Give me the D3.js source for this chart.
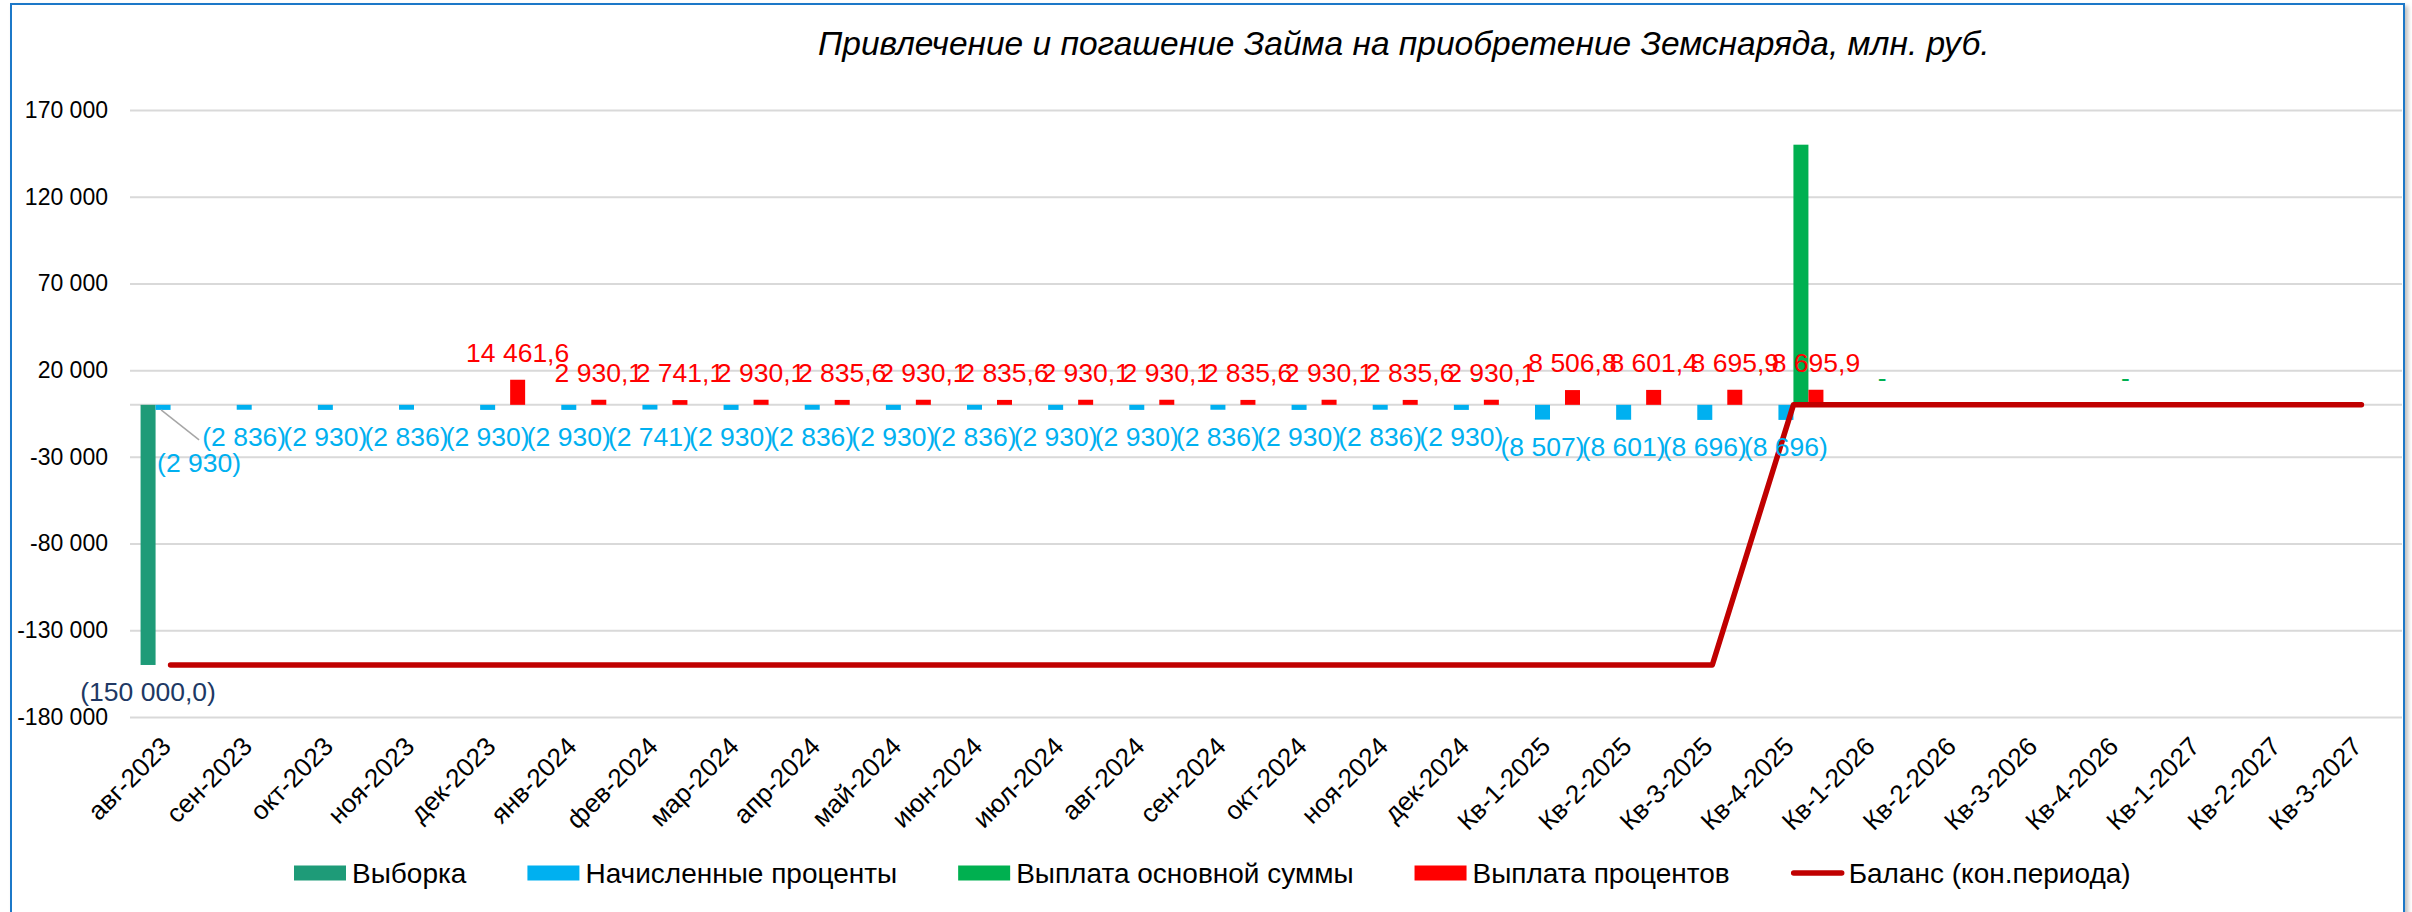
<!DOCTYPE html>
<html>
<head>
<meta charset="utf-8">
<script src="https://cdn.jsdelivr.net/npm/d3@7"></script>
<style>
  html, body { margin: 0; padding: 0; background: #fff; }
  svg { display: block; font-family: "Liberation Sans", Arial, sans-serif; }
</style>
</head>
<body>
<div id="chart"></div>
<script>
// Categories (months, then quarters)
const categories = [
  "авг-2023", "сен-2023", "окт-2023", "ноя-2023", "дек-2023", "янв-2024", "фев-2024",
  "мар-2024", "апр-2024", "май-2024", "июн-2024", "июл-2024", "авг-2024", "сен-2024",
  "окт-2024", "ноя-2024", "дек-2024", "Кв-1-2025", "Кв-2-2025", "Кв-3-2025", "Кв-4-2025",
  "Кв-1-2026", "Кв-2-2026", "Кв-3-2026", "Кв-4-2026", "Кв-1-2027", "Кв-2-2027", "Кв-3-2027"
];

// Выборка
const drawdown = [-150000, null, null, null, null, null, null, null, null, null, null, null, null, null,
  null, null, null, null, null, null, null, null, null, null, null, null, null, null];

// Начисленные проценты
const accrued = [-2930.1, -2835.6, -2930.1, -2835.6, -2930.1, -2930.1, -2741.1, -2930.1, -2835.6,
  -2930.1, -2835.6, -2930.1, -2930.1, -2835.6, -2930.1, -2835.6, -2930.1,
  -8506.8, -8601.4, -8695.9, -8695.9, null, null, null, null, null, null, null];

// Выплата основной суммы
const principal = [null, null, null, null, null, null, null, null, null, null, null, null, null, null,
  null, null, 0, null, null, null, 150000, 0, null, null, 0, null, null, null];

// Выплата процентов
const interest = [null, null, null, null, 14461.6, 2930.1, 2741.1, 2930.1, 2835.6, 2930.1, 2835.6,
  2930.1, 2930.1, 2835.6, 2930.1, 2835.6, 2930.1, 8506.8, 8601.4, 8695.9, 8695.9,
  null, null, null, null, null, null, null];

// Баланс (кон.периода)
const balance = [-150000, -150000, -150000, -150000, -150000, -150000, -150000, -150000, -150000,
  -150000, -150000, -150000, -150000, -150000, -150000, -150000, -150000, -150000, -150000, -150000,
  0, 0, 0, 0, 0, 0, 0, 0];

const yTicks = [170000, 120000, 70000, 20000, -30000, -80000, -130000, -180000];

const W = 2412, H = 912;
const plot = { left: 130, right: 2402, top: 110, bottom: 717 };

const ru = d3.formatLocale({ decimal: ",", thousands: " ", grouping: [3], currency: ["", ""], minus: "-" });
const fmtInt = ru.format(",.0f");
const fmt1 = ru.format(",.1f");
const paren0 = v => v < 0 ? `(${fmtInt(-v)})` : fmtInt(v);
const paren1 = v => v === 0 ? "-" : (v < 0 ? `(${fmt1(-v)})` : fmt1(v));

const series = [
  { key: "drawdown", name: "Выборка", values: drawdown, color: "#1E9B78", labelColor: "#203864", fmt: paren1, showLabel: v => true },
  { key: "accrued", name: "Начисленные проценты", values: accrued, color: "#00B0F0", labelColor: "#00B0F0", fmt: paren0, showLabel: v => true },
  { key: "principal", name: "Выплата основной суммы", values: principal, color: "#00B050", labelColor: "#00B050", fmt: paren1, showLabel: v => v === 0 },
  { key: "interest", name: "Выплата процентов", values: interest, color: "#FF0000", labelColor: "#FF0000", fmt: paren1, showLabel: v => true }
];

const svg = d3.select("#chart").append("svg")
  .attr("width", W)
  .attr("height", H);

// Chart frame with a soft shadow
const defs = svg.append("defs");
const f = defs.append("filter").attr("id", "shadow").attr("x", "-1%").attr("y", "-1%").attr("width", "103%").attr("height", "103%");
f.append("feDropShadow").attr("dx", 3).attr("dy", 3).attr("stdDeviation", 2).attr("flood-color", "#000").attr("flood-opacity", 0.25);

svg.append("rect")
  .attr("x", 11).attr("y", 4)
  .attr("width", 2393).attr("height", 920)
  .attr("fill", "#fff")
  .attr("stroke", "#1F78C8")
  .attr("stroke-width", 2)
  .attr("filter", "url(#shadow)");

// Scales
const x = d3.scaleBand()
  .domain(categories)
  .range([plot.left, plot.right])
  .padding(0);

const xs = d3.scaleBand()
  .domain(series.map(s => s.key))
  .range([0, x.bandwidth()])
  .paddingInner(0)
  .paddingOuter(0.705);

const y = d3.scaleLinear()
  .domain([-180000, 170000])
  .range([plot.bottom, plot.top]);

// Gridlines
svg.append("g")
  .attr("transform", `translate(${plot.left},0)`)
  .call(d3.axisLeft(y).tickValues(yTicks).tickSize(-(plot.right - plot.left)).tickFormat(""))
  .call(g => g.select(".domain").remove())
  .selectAll("line")
  .attr("stroke", "#D9D9D9")
  .attr("stroke-width", 2);

// Y axis labels
svg.append("g")
  .attr("transform", `translate(${plot.left},0)`)
  .call(d3.axisLeft(y).tickValues(yTicks).tickSize(0).tickPadding(22).tickFormat(ru.format(",")))
  .call(g => g.select(".domain").remove())
  .selectAll("text")
  .attr("font-family", "Liberation Sans, Arial, sans-serif")
  .style("font-size", "23px")
  .attr("fill", "#000");

// Category axis line at zero
svg.append("line")
  .attr("x1", plot.left).attr("x2", plot.right)
  .attr("y1", y(0)).attr("y2", y(0))
  .attr("stroke", "#D9D9D9")
  .attr("stroke-width", 2);

// X axis labels (rotated)
svg.append("g")
  .attr("transform", `translate(0,${plot.bottom})`)
  .call(d3.axisBottom(x).tickSize(0).tickFormat(d => d))
  .call(g => g.select(".domain").remove())
  .selectAll("text")
  .attr("font-family", "Liberation Sans, Arial, sans-serif")
  .style("font-size", "26px")
  .attr("fill", "#000")
  .attr("dy", 0)
  .attr("y", 0)
  .attr("transform", "translate(2,31) rotate(-45)")
  .style("text-anchor", "end");

// Bars
series.forEach(s => {
  const pts = categories.map((c, i) => ({ c, v: s.values[i] })).filter(d => d.v !== null);
  svg.append("g").selectAll("rect")
    .data(pts.filter(d => d.v !== 0))
    .join("rect")
    .attr("x", d => x(d.c) + xs(s.key))
    .attr("width", xs.bandwidth())
    .attr("y", d => y(Math.max(0, d.v)))
    .attr("height", d => Math.abs(y(d.v) - y(0)))
    .attr("fill", s.color);
});

// Balance line
const line = d3.line()
  .x((d, i) => x(categories[i]) + x.bandwidth() / 2)
  .y(d => y(d));

svg.append("path")
  .datum(balance)
  .attr("d", line)
  .attr("fill", "none")
  .attr("stroke", "#C00000")
  .attr("stroke-width", 5.5)
  .attr("stroke-linecap", "round")
  .attr("stroke-linejoin", "round");

// Data labels
series.forEach(s => {
  const pts = categories.map((c, i) => ({ c, i, v: s.values[i] }))
    .filter(d => d.v !== null && s.showLabel(d.v));
  const g = svg.append("g");
  pts.forEach(d => {
    const cx = x(d.c) + xs(s.key) + xs.bandwidth() / 2;
    let lx = cx, ly = d.v < 0 ? y(d.v) + 36 : y(d.v) - 18;
    if (s.key === "accrued" && d.i === 0) {
      // moved label with leader line
      lx = cx + 36; ly = y(d.v) + 62;
      g.append("line")
        .attr("x1", cx - 2).attr("y1", y(d.v))
        .attr("x2", lx).attr("y2", ly - 32)
        .attr("stroke", "#A6A6A6")
        .attr("stroke-width", 1.5);
    }
    g.append("text")
      .attr("x", lx)
      .attr("y", ly)
      .attr("text-anchor", "middle")
      .style("font-size", "26.5px")
      .attr("fill", s.labelColor)
      .text(s.fmt(d.v));
  });
});

// Title
svg.append("text")
  .attr("x", 818)
  .attr("y", 55)
  .style("font-size", "33.5px")
  .style("font-style", "italic")
  .attr("fill", "#000")
  .text("Привлечение и погашение Займа на приобретение Земснаряда, млн. руб.");

// Legend
const legendItems = series.map(s => ({ name: s.name, color: s.color, type: "box" }))
  .concat([{ name: "Баланс (кон.периода)", color: "#C00000", type: "line" }]);

const legend = svg.append("g").attr("transform", "translate(294,873)");
let lxPos = 0;
legendItems.forEach(it => {
  const g = legend.append("g").attr("transform", `translate(${lxPos},0)`);
  if (it.type === "box") {
    g.append("rect").attr("x", 0).attr("y", -7.5).attr("width", 52).attr("height", 15).attr("fill", it.color);
  } else {
    g.append("line").attr("x1", 3).attr("x2", 51).attr("y1", 0).attr("y2", 0)
      .attr("stroke", it.color).attr("stroke-width", 5.5).attr("stroke-linecap", "round");
  }
  const t = g.append("text")
    .attr("x", 58)
    .attr("y", 10)
    .style("font-size", "28px")
    .attr("fill", "#000")
    .text(it.name);
  lxPos += 58 + t.node().getComputedTextLength() + 61;
});
</script>
</body>
</html>
